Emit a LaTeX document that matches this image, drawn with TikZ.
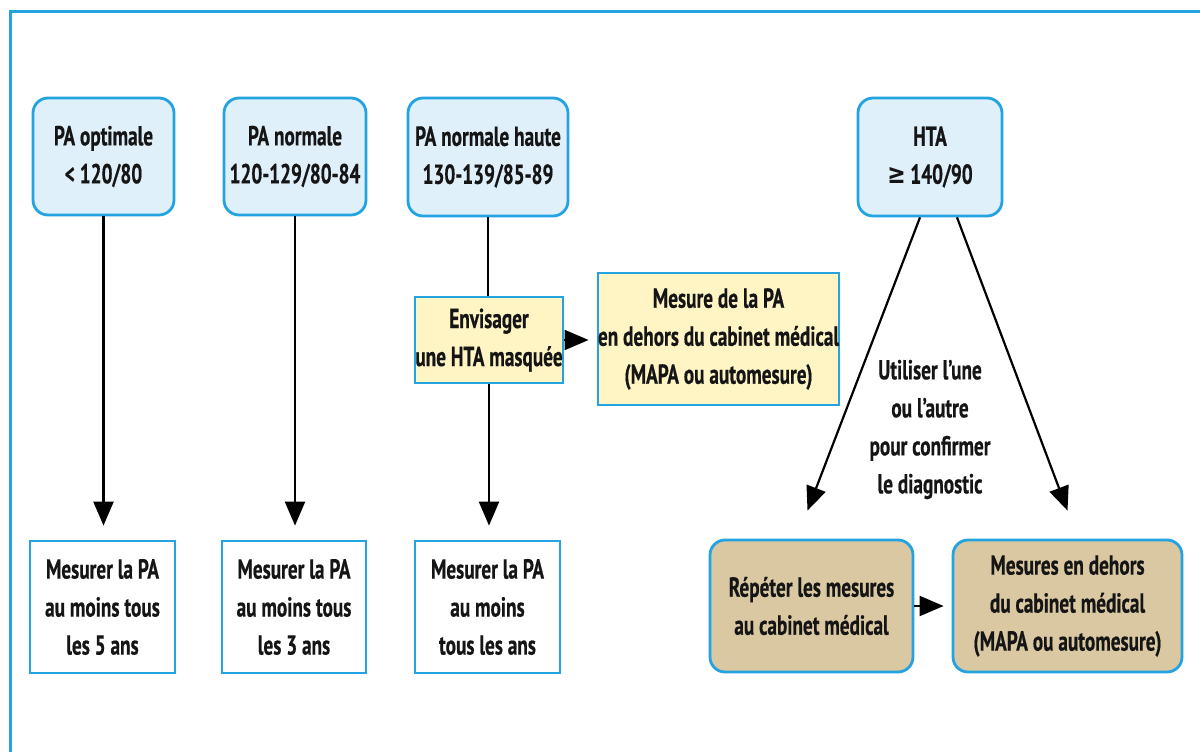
\documentclass[tikz,border=0pt]{standalone}
\usepackage{fontspec}
\setmainfont{PT Sans}[FakeStretch=0.7, BoldFeatures={FakeBold=0.5}]
\newfontfamily\symfont{DejaVu Sans}[FakeStretch=0.8]
\usetikzlibrary{arrows.meta,calc}
\definecolor{frameblue}{HTML}{23A3E0}
\definecolor{lightblue}{HTML}{DFF0FB}
\definecolor{paleyellow}{HTML}{FFF4C4}
\definecolor{tan}{HTML}{D9C8A2}
\definecolor{ink}{HTML}{151515}
\tikzset{
  box/.style={draw=frameblue, line width=2.8pt, align=center, text=ink,
    font=\fontsize{27.5}{38}\selectfont\bfseries, inner sep=0pt},
  catbox/.style={box, fill=lightblue, rounded corners=15pt},
  yelbox/.style={box, fill=paleyellow},
  whitebox/.style={box, fill=white},
  tanbox/.style={box, fill=tan, rounded corners=15pt},
  conn/.style={draw=black, line width=2.2pt},
  arr/.style={conn, -{Triangle[width=20pt,length=24pt]}},
  note/.style={align=center, text=ink, font=\fontsize{27.5}{38}\selectfont\bfseries}
}
\begin{document}
\begin{tikzpicture}[x=1pt,y=-1pt]
\useasboundingbox (0,0) rectangle (1200,752);
\fill[white] (0,0) rectangle (1200,752);
\draw[frameblue, line width=3pt] (1200,12) -- (10,12) -- (10,752);

% top category boxes
\node[catbox, minimum width=141pt, minimum height=117pt] (o1) at (103.5,156.5) {PA optimale\\< 120/80};
\node[catbox, minimum width=142pt, minimum height=117pt] (o2) at (295,156.5) {PA normale\\120-129/80-84};
\node[catbox, minimum width=160pt, minimum height=118pt] (o3) at (488,157) {PA normale haute\\130-139/85-89};
\node[catbox, minimum width=144pt, minimum height=118pt] (hta) at (930,157) {HTA\\{\symfont\bfseries ≥}\,140/90};

% middle yellow boxes
\node[yelbox, minimum width=148pt, minimum height=86pt] (env) at (489,340) {Envisager\\une HTA masquée};
\node[yelbox, minimum width=237pt, minimum height=132pt] (mes) at (718.5,339) {Mesure de la PA\\en dehors du cabinet médical\\(MAPA ou automesure)};

% bottom boxes
\node[whitebox, minimum width=145pt, minimum height=132pt] (b1) at (102.5,607) {Mesurer la PA\\au moins tous\\les 5 ans};
\node[whitebox, minimum width=144pt, minimum height=132pt] (b2) at (294,607) {Mesurer la PA\\au moins tous\\les 3 ans};
\node[whitebox, minimum width=145pt, minimum height=132pt] (b3) at (487.5,607) {Mesurer la PA\\au moins\\tous les ans};
\node[tanbox, minimum width=203pt, minimum height=132pt] (rep) at (811.5,606) {Répéter les mesures\\au cabinet médical};
\node[tanbox, minimum width=229pt, minimum height=132pt] (dehors) at (1067.5,606) {Mesures en dehors\\du cabinet médical\\(MAPA ou automesure)};

% label
\node[note] (lbl) at (930,429.5) {Utiliser l’une\\ou l’autre\\pour confirmer\\le diagnostic};

% connectors
\draw[arr, shorten >=14pt] (o1.south) -- (o1.south |- b1.north);
\draw[arr, shorten >=14pt] (o2.south) -- (o2.south |- b2.north);
\draw[conn] (o3.south) -- (o3.south |- env.north);
\draw[arr, shorten >=14pt] (env.south) -- (env.south |- b3.north);
\draw[arr, shorten >=8pt] (env.east) -- (env.east -| mes.west);
\draw[arr, shorten >=8pt] (rep.east) -- (rep.east -| dehors.west);

\coordinate (hl) at ($(hta.south)+(-10,0)$);
\coordinate (hr) at ($(hta.south)+(27,0)$);
\coordinate (tl) at ($(rep.north)+(-4,-28)$);
\coordinate (tr) at ($(dehors.north)+(0,-28)$);
\draw[arr] (hl) -- (tl);
\draw[arr] (hr) -- (tr);
\end{tikzpicture}
\end{document}
